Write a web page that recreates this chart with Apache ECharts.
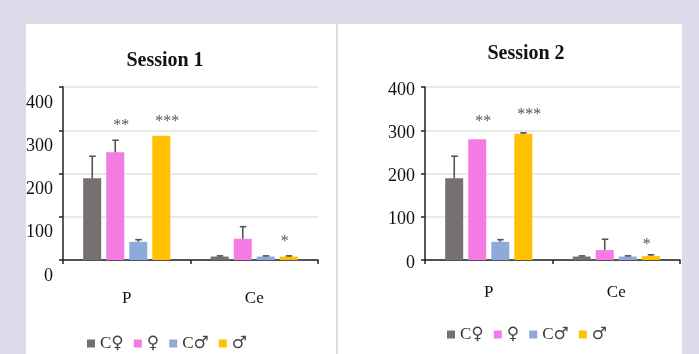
<!DOCTYPE html>
<html><head><meta charset="utf-8">
<script src="https://cdn.jsdelivr.net/npm/echarts@6/dist/echarts.min.js"></script>
<style>html,body{margin:0;padding:0;background:#dcdbea}#c{width:699px;height:354px}</style>
</head><body><div id="c"></div>
<script>
// ---- data ----
const categories = ['P', 'Ce'];
const seriesNames = ['C♀', '♀', 'C♂', '♂'];
const yTicks = [0, 100, 200, 300, 400];
const titles = ['Session 1', 'Session 2'];

// Session 1 means and upper error (SEM)
const s1CFemale = [189, 8];
const s1Female  = [249, 49];
const s1CMale   = [42, 8];
const s1Male    = [287, 8];
const s1CFemaleErr = [51, 1.5];
const s1FemaleErr  = [28, 28];
const s1CMaleErr   = [5, 1.5];
const s1MaleErr    = [0, 1.5];
const s1Sig = [['', '**', '', '***'], ['', '', '', '*']];

// Session 2
const s2CFemale = [189, 8];
const s2Female  = [279, 23];
const s2CMale   = [42, 8];
const s2Male    = [292, 9];
const s2CFemaleErr = [51, 1.5];
const s2FemaleErr  = [0, 25];
const s2CMaleErr   = [5, 1.5];
const s2MaleErr    = [2, 3];
const s2Sig = [['', '**', '', '***'], ['', '', '', '*']];

// ---- style ----
const colors = ['#767171', '#f47be2', '#8eaadb', '#ffc000'];
const serif = "'Liberation Serif', 'Times New Roman', serif";
const BAR_W = 18, BAR_STEP = 23;

const sessions = [
  {vals: [s1CFemale, s1Female, s1CMale, s1Male], errs: [s1CFemaleErr, s1FemaleErr, s1CMaleErr, s1MaleErr], sig: s1Sig},
  {vals: [s2CFemale, s2Female, s2CMale, s2Male], errs: [s2CFemaleErr, s2FemaleErr, s2CMaleErr, s2MaleErr], sig: s2Sig}
];

const layout = [
  {grid: {left: 63, right: 381, top: 87, bottom: 94}, titleX: 160, titleY: 46, labelShift: 16, catMargin: 30, legendX: 82, legendY: 330, sigDy: [14, 14]},
  {grid: {left: 425, right: 19, top: 87, bottom: 94}, titleX: 521, titleY: 39, labelShift: 3, catMargin: 24, legendX: 442, legendY: 321, sigDy: [18, 10]}
];

const option = {
  backgroundColor: '#dcdbea',
  animation: false,
  title: [], legend: [], grid: [], xAxis: [], yAxis: [], series: [],
  graphic: [
    {type: 'rect', shape: {x: 26, y: 24, width: 656, height: 340}, style: {fill: '#ffffff'}, z: -10},
    {type: 'line', shape: {x1: 337, y1: 24, x2: 337, y2: 354}, style: {stroke: '#d0d0d0', lineWidth: 1.5}, z: -9}
  ]
};

sessions.forEach((s, gi) => {
  const L = layout[gi];
  option.title.push({text: titles[gi], left: L.titleX, top: L.titleY, textAlign: 'center',
    textStyle: {fontFamily: serif, fontWeight: 'bold', fontSize: 20, color: '#111'}});
  option.legend.push({data: seriesNames, left: L.legendX, top: L.legendY, icon: 'rect',
    itemWidth: 8, itemHeight: 8, itemGap: 10,
    formatter: n => n.replace(/[♀♂]/g, m => '{s|' + m + '}'),
    textStyle: {fontFamily: serif, fontSize: 17, color: '#333',
      rich: {s: {fontFamily: 'DejaVu Sans', fontSize: 17, color: '#444'}}}});
  option.grid.push(L.grid);
  option.xAxis.push({type: 'category', gridIndex: gi, data: categories,
    axisLine: {lineStyle: {color: '#222', width: 1.5}},
    axisTick: {show: true, length: 4, lineStyle: {color: '#222', width: 1.5}},
    axisLabel: {fontFamily: serif, fontSize: 17, color: '#111', margin: L.catMargin},
    splitLine: {show: false}});
  option.yAxis.push({type: 'value', gridIndex: gi, min: 0, max: 400, interval: 100,
    axisLine: {show: true, lineStyle: {color: '#222', width: 1.5}},
    axisTick: {show: true, length: 4, lineStyle: {color: '#222', width: 1.5}},
    axisLabel: {fontFamily: serif, fontSize: 18, color: '#111', margin: 10,
      verticalAlign: 'top', lineHeight: 2 * L.labelShift,
      formatter: v => yTicks.includes(v) ? String(v) : ''},
    splitLine: {lineStyle: {color: '#e3e3e3', width: 1.5}}});

  s.vals.forEach((v, si) => {
    option.series.push({type: 'bar', name: seriesNames[si], xAxisIndex: gi, yAxisIndex: gi,
      data: v, barWidth: BAR_W, barGap: '28%', itemStyle: {color: colors[si]}});
  });

  const errData = [];
  const sigData = [];
  categories.forEach((c, ci) => {
    s.vals.forEach((v, si) => {
      errData.push([ci, v[ci], s.errs[si][ci], si]);
      if (s.sig[ci][si]) sigData.push({ci, si, top: v[ci] + s.errs[si][ci], text: s.sig[ci][si]});
    });
  });

  option.series.push({type: 'custom', xAxisIndex: gi, yAxisIndex: gi, z: 5, silent: true,
    data: errData, encode: {x: 0, y: 1},
    renderItem: (params, api) => {
      const ci = api.value(0), val = api.value(1), err = api.value(2), si = api.value(3);
      if (!(err > 0.8)) return null;
      const b = api.coord([ci, val]), t = api.coord([ci, val + err]);
      const x = b[0] + (si - 1.5) * BAR_STEP;
      const st = {stroke: '#555', lineWidth: 1.6};
      return {type: 'group', children: [
        {type: 'line', shape: {x1: x, y1: b[1], x2: x, y2: t[1]}, style: st},
        {type: 'line', shape: {x1: x - 3, y1: t[1], x2: x + 3.5, y2: t[1]}, style: st}
      ]};
    }});

  option.series.push({type: 'custom', xAxisIndex: gi, yAxisIndex: gi, z: 6, silent: true,
    data: sigData.map(d => [d.ci, d.top]), encode: {x: 0, y: 1},
    renderItem: (params, api) => {
      const d = sigData[params.dataIndex];
      const p = api.coord([d.ci, d.top]);
      const x = p[0] + (d.si - 1.5) * BAR_STEP + (d.ci === 0 ? 6 : -4);
      const dy = d.ci === 0 ? L.sigDy[0] : L.sigDy[1];
      return {type: 'text', style: {text: d.text, x: x, y: p[1] - dy, align: 'center', verticalAlign: 'middle',
        font: "16px 'Liberation Serif', serif", fill: '#555'}};
    }});
});

const chart = echarts.init(document.getElementById('c'));
chart.setOption(option);
</script></body></html>
